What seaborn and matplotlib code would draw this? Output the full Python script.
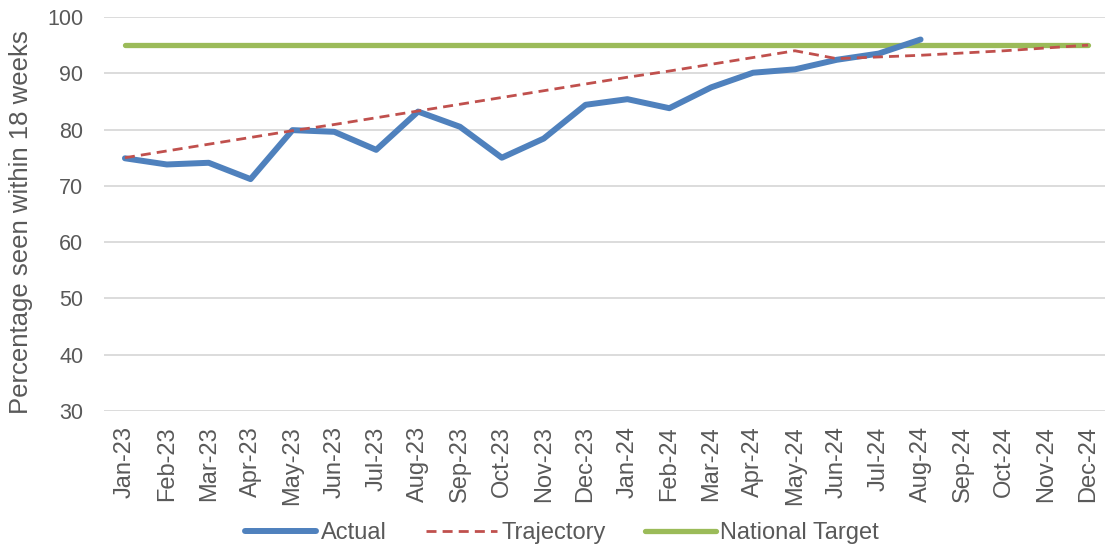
import numpy as np
import pandas as pd
import matplotlib
matplotlib.use("Agg")
import matplotlib.pyplot as plt
import seaborn as sns

months = ["Jan-23", "Feb-23", "Mar-23", "Apr-23", "May-23", "Jun-23", "Jul-23", "Aug-23",
          "Sep-23", "Oct-23", "Nov-23", "Dec-23", "Jan-24", "Feb-24", "Mar-24", "Apr-24",
          "May-24", "Jun-24", "Jul-24", "Aug-24", "Sep-24", "Oct-24", "Nov-24", "Dec-24"]

actual = [74.9, 73.8, 74.1, 71.2, 79.9, 79.6, 76.4, 83.2, 80.5, 75.0, 78.4, 84.4,
          85.4, 83.8, 87.5, 90.1, 90.7, 92.4, 93.5, 96.0]

trajectory = [75.0, 76.2, 77.4, 78.6, 79.8, 80.9, 82.1, 83.3, 84.5, 85.7, 86.9, 88.1,
              89.3, 90.4, 91.6, 92.8, 94.0, 92.6, 92.9, 93.2, 93.6, 94.0, 94.5, 95.0]

national_target = [95] * 24

y_ticks = [30, 40, 50, 60, 70, 80, 90, 100]

sns.set_theme(style="white")
plt.rcParams["font.family"] = ["Liberation Sans", "DejaVu Sans"]

idx = np.arange(len(months))
df_actual = pd.DataFrame({"x": idx[:len(actual)], "y": actual})
df_traj = pd.DataFrame({"x": idx, "y": trajectory})
df_target = pd.DataFrame({"x": idx, "y": national_target})

fig = plt.figure(figsize=(11.05, 5.45), dpi=100)
ax = fig.add_axes([104 / 1105, 1 - 411 / 545, (1109 - 104) / 1105, (411 - 17) / 545])

text_color = "#595959"

sns.lineplot(data=df_actual, x="x", y="y", ax=ax, color="#4F81BD", linewidth=4.3,
             label="Actual", solid_capstyle="round", solid_joinstyle="round", zorder=3)
sns.lineplot(data=df_traj, x="x", y="y", ax=ax, color="#C0504D", linewidth=2.0,
             label="Trajectory", zorder=4)
ax.lines[-1].set_dashes([3.6, 2.2])
sns.lineplot(data=df_target, x="x", y="y", ax=ax, color="#9BBB59", linewidth=3.8,
             label="National Target", solid_capstyle="round", zorder=2)

ax.set_xlim(-0.5, len(months) - 0.5)
ax.set_ylim(30, 100)
ax.set_yticks(y_ticks)
ax.set_xticks(idx)
ax.set_xticklabels(months, rotation=90)
ax.tick_params(axis="x", labelsize=17, colors=text_color, length=0, pad=11)
ax.tick_params(axis="y", labelsize=15.5, colors=text_color, length=0, pad=15)
ax.grid(axis="y", color="#D9D9D9", linewidth=1.3)
ax.set_axisbelow(True)
for side in ["top", "right", "left", "bottom"]:
    ax.spines[side].set_visible(False)

ax.set_xlabel("")
ax.set_ylabel("Percentage seen within 18 weeks", fontsize=18.5, color=text_color)
ax.yaxis.set_label_coords(-0.0706, 0.48)

leg = ax.legend(loc="center", bbox_to_anchor=(0.456, (411 - 533) / 394), ncol=3, frameon=False,
                fontsize=17, handlelength=3.0, columnspacing=1.65, handletextpad=0.2,
                borderpad=0, borderaxespad=0)
for t in leg.get_texts():
    t.set_color(text_color)
for h in leg.get_lines():
    h.set_solid_capstyle("round")

fig.savefig("out.png", dpi=100)
